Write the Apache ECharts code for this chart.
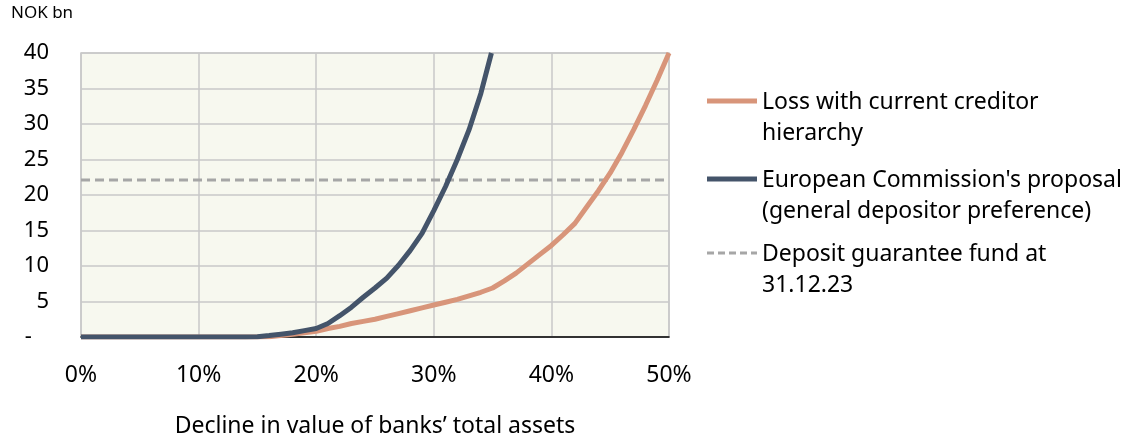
<!DOCTYPE html>
<html>
<head>
    <meta charset="utf-8">
    <title>Creditor hierarchy losses</title>
    <script src="https://cdn.jsdelivr.net/npm/echarts@6/dist/echarts.min.js"></script>
</head>
<body style="margin:0">
    <div id="main" style="width:1122px;height:436px;"></div>
    <script type="text/javascript">

    // decline in value of banks' total assets, percent
    var declinePct = [0,1,2,3,4,5,6,7,8,9,10,11,12,13,14,15,16,17,18,19,20,21,22,23,24,25,
        26,27,28,29,30,31,32,33,34,35,36,37,38,39,40,41,42,43,44,45,46,47,48,49,50];
    // loss with current creditor hierarchy, NOK bn
    var lossCurrent = [0,0,0,0,0,0,0,0,0,0,0,0,0,0,0,0,0.05,0.2,0.4,0.6,0.8,1.2,1.5,1.9,2.2,2.5,
        2.9,3.3,3.7,4.1,4.5,4.9,5.3,5.8,6.3,6.9,7.9,9.0,10.3,11.6,12.9,14.4,16.0,18.3,20.6,23.1,26.0,29.2,32.6,36.2,40.0];
    // European Commission's proposal, NOK bn (runs off the top of the chart)
    var declineEC = [0,1,2,3,4,5,6,7,8,9,10,11,12,13,14,15,16,17,18,19,20,21,22,23,24,25,
        26,27,28,29,30,31,32,33,34,34.9];
    var lossEC = [0,0,0,0,0,0,0,0,0,0,0,0,0,0,0,0.05,0.2,0.4,0.6,0.9,1.2,1.9,3.0,4.2,5.6,6.9,
        8.3,10.1,12.2,14.6,17.8,21.2,25.0,29.2,34.3,40.0];
    // deposit guarantee fund at 31.12.23, NOK bn
    var fundX = [0, 50];
    var fundLevel = 22.1;

    var names = ['Loss with current creditor\nhierarchy',
                 'European Commission\'s proposal\n(general depositor preference)',
                 'Deposit guarantee fund at\n31.12.23'];
    var colors = ['#d8957a', '#44546a', '#a6a6a6'];

    var font = 'Noto Sans';

    function pairs(xs, ys) {
        var out = [];
        for (var i = 0; i < xs.length; i++) out.push([xs[i], ys[i]]);
        return out;
    }

    var myChart = echarts.init(document.getElementById('main'));

    var legendItems = [];
    var legendTop = [91, 169, 243];
    for (var i = 0; i < names.length; i++) {
        legendItems.push({
            type: 'line',
            shape: {x1: 707, y1: legendTop[i] + 10, x2: 757, y2: legendTop[i] + 10},
            style: {stroke: colors[i], lineWidth: i == 2 ? 3 : 5, lineDash: i == 2 ? [7, 4] : null}
        });
        legendItems.push({
            type: 'text',
            left: 762, top: legendTop[i] - 4,
            style: {text: names[i], font: '23px "' + font + '"', fill: '#000', lineHeight: 31}
        });
    }
    legendItems.push({
        type: 'text', left: 11, top: 5,
        style: {text: 'NOK bn', font: '17px "' + font + '"', fill: '#000'}
    });

option = {
    animation: false,
    textStyle: {fontFamily: font},
    grid: {left: 81, right: 453, top: 53, bottom: 99, show: true, outerBoundsMode: 'none',
           backgroundColor: '#f7f8ef', borderColor: '#c8c8c8', borderWidth: 1.5},
    xAxis: {
        type: 'value', min: 0, max: 50, interval: 10,
        name: 'Decline in value of banks\u2019 total assets',
        nameLocation: 'middle', nameGap: 78,
        nameTextStyle: {fontSize: 23, color: '#000', fontFamily: font},
        axisLine: {lineStyle: {color: '#000', width: 1.5}},
        axisTick: {show: false},
        axisLabel: {fontSize: 23, color: '#000', margin: 27, formatter: function (v) { return v + '%'; }},
        splitLine: {lineStyle: {color: '#c8c8c8', width: 1.5}}
    },
    yAxis: {
        type: 'value', min: 0, max: 40, interval: 5,
        axisLine: {show: false},
        axisTick: {show: false},
        axisLabel: {fontSize: 22, color: '#000', margin: 32,
            formatter: function (v) { return v === 0 ? '-   ' : String(v); }},
        splitLine: {lineStyle: {color: '#c8c8c8', width: 1.5}}
    },
    graphic: legendItems,
    series: [
        {
            name: names[2], type: 'line', symbol: 'none', z: 1,
            data: pairs(fundX, [fundLevel, fundLevel]),
            lineStyle: {color: colors[2], width: 3, type: [9, 5]}
        },
        {
            name: names[0], type: 'line', symbol: 'none', z: 2,
            data: pairs(declinePct, lossCurrent),
            lineStyle: {color: colors[0], width: 5}
        },
        {
            name: names[1], type: 'line', symbol: 'none', z: 3,
            data: pairs(declineEC, lossEC),
            lineStyle: {color: colors[1], width: 5}
        }
    ]
};
    myChart.setOption(option);

    </script>
</body>
</html>
